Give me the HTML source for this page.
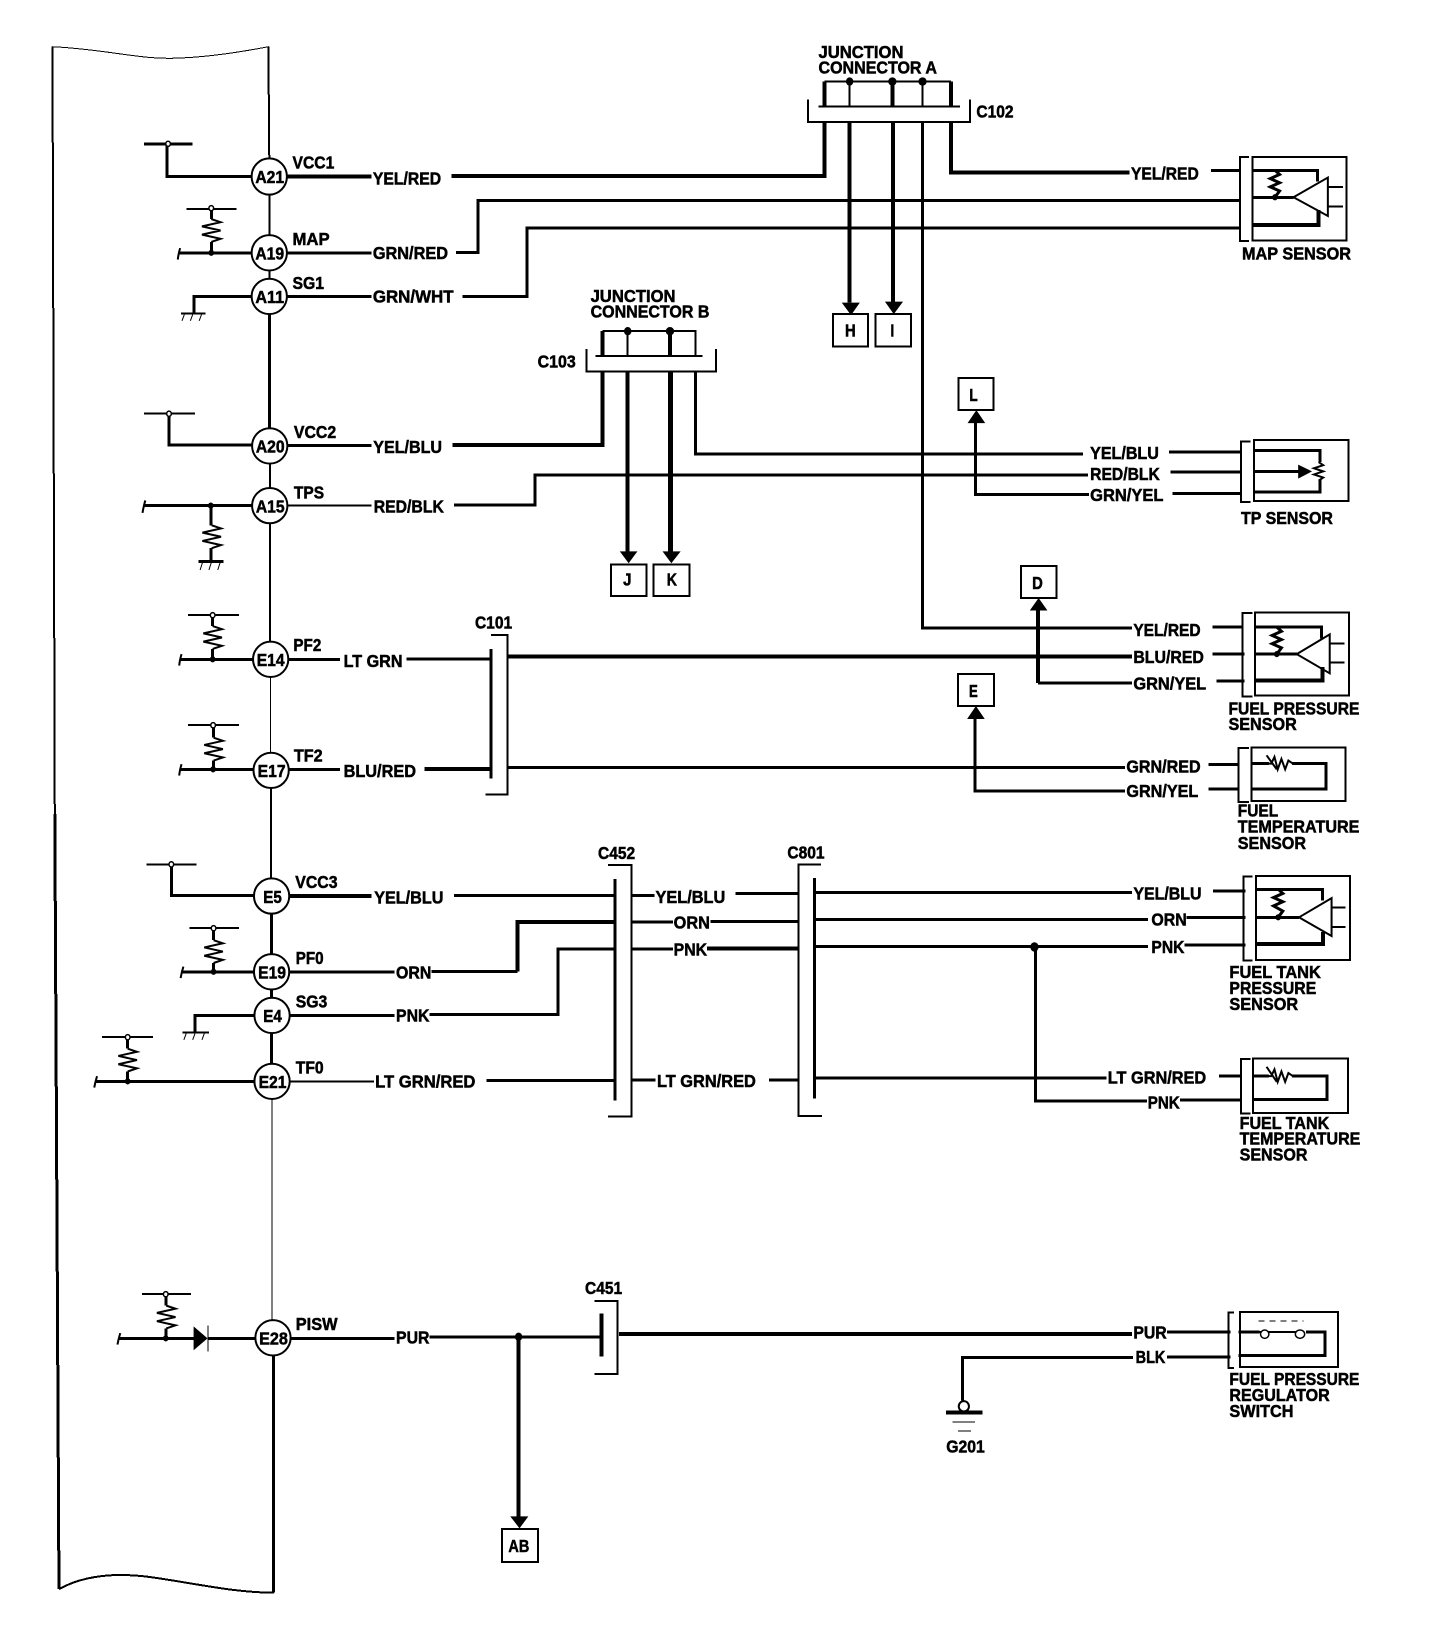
<!DOCTYPE html>
<html><head><meta charset="utf-8"><style>
html,body{margin:0;padding:0;background:#fff}
svg{display:block}
svg *{vector-effect:non-scaling-stroke}
.l{fill:none;stroke:#000;stroke-linejoin:miter;stroke-linecap:butt;shape-rendering:crispEdges}
.c{fill:none;stroke:#000}
.s1{stroke-width:1px}.s2{stroke-width:2px}.s3{stroke-width:3px}.s4{stroke-width:4px}.s5{stroke-width:5px}
text{font-family:"Liberation Sans",sans-serif;font-weight:bold;font-size:34px;fill:#000;stroke:#000;stroke-width:.5px}
</style></head><body>
<svg xmlns="http://www.w3.org/2000/svg" width="1456" height="1628" viewBox="0 0 3136 3136" preserveAspectRatio="none">
<rect width="3136" height="3136" fill="#fff"/>
<!-- module outline -->
<path class="l s1" d="M113,90 C230,95 300,115 380,112 C450,110 520,100 578,90"/>
<path class="l s2" d="M578,90 L580,305"/>
<path class="l s2" d="M113,90 L118,1568"/>
<path class="l s3" d="M118,1568 L127,3061"/>
<path class="l s2" d="M127,3061 C190,3030 270,3030 340,3040 C430,3052 510,3068 590,3068"/>
<!-- spine -->
<path class="l s2" d="M580,340V487"/><path class="l s2" d="M580,487V571"/><path class="l s3" d="M580,571V859"/>
<path class="l s2" d="M581,859V974"/><path class="l s2" d="M581,974V1270"/><path class="l s1" d="M583,1270V1484"/>
<path class="l s2" d="M584,1484V1726"/><path class="l s3" d="M585,1726V2083"/><path class="l s1" d="M586,2083V2577"/><path class="l s3" d="M589,2577V3068"/>
<!-- left side circuits -->
<path class="l s3" d="M542,340H360V277M310,277H415"/>
<path class="l s2" d="M402,403H509M310,797H420M405,1185H515M405,1397H515M315,1665H423M408,1788H515M220,1998H330M306,2493H411"/>
<path class="l s3" d="M455,403V422M455,466V487M385,487H542M458,1185V1206M458,1250V1270M388,1270H545M460,1397V1421M460,1465V1482M388,1482H545M460,1788V1811M460,1855V1872M390,1872H548M275,1998V2020M275,2064V2083M205,2083H548M357,2493V2515M357,2559V2578M255,2578H420M448,2578H550"/>
<path class="c s2" d="M455,422L475,428L435,436L475,444L435,452L475,460L455,466M456,1012L476,1018L436,1026L476,1034L436,1042L476,1050L456,1056M458,1206L478,1212L438,1220L478,1228L438,1236L478,1244L458,1250M460,1421L480,1427L440,1435L480,1443L440,1451L480,1459L460,1465M460,1811L480,1817L440,1825L480,1833L440,1841L480,1849L460,1855M275,2020L295,2026L255,2034L295,2042L255,2050L295,2058L275,2064M358,2515L378,2521L338,2529L378,2537L338,2545L378,2553L358,2559"/>
<path class="l s3" d="M542,571H418V603M428,1082H481M548,1956H420V1988M310,974H542"/>
<path class="l s2" d="M390,604H443M393,1989H450"/>
<path class="l s3" d="M454,974V1012M454,1056V1082"/>
<path class="l s3" d="M542,857H364V797M548,1725H369V1665"/>
<path class="c s1" d="M397,606L392,618M415,606L410,618M434,606L429,618M436,1084L431,1098M455,1084L450,1098M474,1084L469,1098M401,1991L396,2003M420,1991L415,2003M440,1991L435,2003"/>
<path class="c s2" d="M388,478Q384,490 383,500M313,964Q309,976 307,988M391,1260Q387,1272 386,1282M391,1472Q387,1484 386,1494M395,1862Q391,1874 389,1884M209,2073Q205,2085 203,2095M259,2568Q255,2580 253,2590"/>
<g fill="#fff" stroke="#000" stroke-width="1.5px">
<ellipse cx="362" cy="277" rx="5" ry="5"/><ellipse cx="455" cy="401" rx="5" ry="5"/><ellipse cx="364" cy="797" rx="5" ry="5"/><ellipse cx="458" cy="1185" rx="5" ry="5"/><ellipse cx="459" cy="1397" rx="5" ry="5"/><ellipse cx="369" cy="1665" rx="5" ry="5"/><ellipse cx="460" cy="1788" rx="5" ry="5"/><ellipse cx="275" cy="1998" rx="5" ry="5"/><ellipse cx="357" cy="2493" rx="5" ry="5"/>
</g>
<g fill="#000">
<ellipse cx="455" cy="487" rx="6" ry="6"/><ellipse cx="454" cy="974" rx="6" ry="6"/><ellipse cx="458" cy="1270" rx="6" ry="6"/><ellipse cx="459" cy="1482" rx="6" ry="6"/><ellipse cx="460" cy="1872" rx="6" ry="6"/><ellipse cx="275" cy="2083" rx="6" ry="6"/><ellipse cx="357" cy="2578" rx="6" ry="6"/>
<polygon points="417,2555 417,2601 447,2578"/>
<ellipse cx="1117" cy="2575" rx="8" ry="8"/><ellipse cx="2228" cy="1824" rx="9" ry="9"/>
<ellipse cx="1352" cy="638" rx="8" ry="8"/><ellipse cx="1443" cy="638" rx="9" ry="8"/><ellipse cx="1830" cy="157" rx="8" ry="8"/><ellipse cx="1922" cy="157" rx="9" ry="8"/><ellipse cx="1987" cy="157" rx="9" ry="8"/>
<polygon points="1335,1062 1373,1062 1354,1085"/><polygon points="1427,1062 1466,1062 1446,1085"/>
<polygon points="1813,583 1852,583 1833,607"/><polygon points="1906,581 1945,581 1925,605"/>
<polygon points="2084,815 2122,815 2103,790"/><polygon points="2218,1176 2256,1176 2237,1152"/><polygon points="2083,1385 2121,1385 2102,1360"/>
<polygon points="1099,2921 1138,2921 1119,2944"/>
<polygon points="2796,895 2796,922 2826,908"/>
</g>
<path class="l s1" d="M448,2553V2603"/>
<!-- wires -->
<path class="l s4" d="M618,340H800M972,339H1776V236"/>
<path class="l s3" d="M618,487H800M982,486H1030V386H2673"/>
<path class="l s3" d="M618,571H800"/><path class="l s3" d="M996,571H1135V439H2673"/>
<path class="l s3" d="M620,858H800"/><path class="l s4" d="M975,857H1298V715"/>
<path class="l s2" d="M620,974H800"/><path class="l s3" d="M978,973H1152V915H2343"/>
<path class="l s3" d="M1498,718V875H2333"/>
<path class="l s3" d="M620,1270H732M875,1269H1058"/><path class="l s4" d="M1095,1265H2438"/>
<path class="l s3" d="M620,1482H732"/><path class="l s4" d="M914,1481H1058"/><path class="l s3" d="M1095,1478H2423"/>
<path class="l s4" d="M620,1726H800"/><path class="l s3" d="M978,1725H1325"/>
<path class="l s3" d="M620,1872H850M929,1871H1115"/><path class="l s4" d="M1115,1871V1776H1325"/>
<path class="l s3" d="M620,1956H850"/><path class="l s3" d="M925,1954H1202V1828H1325"/>
<path class="l s2" d="M620,2083H805"/><path class="l s3" d="M1048,2081H1325"/>
<path class="l s3" d="M625,2578H850M925,2575H1296"/>
<path class="l s4" d="M1117,2575V2925"/>
<path class="l s4" d="M1333,2570H2438"/>
<path class="l s3" d="M2513,2566H2650"/>
<path class="l s3" d="M1360,1725H1410M1360,1776H1450M1360,1828H1450M1360,2080H1412M1656,2080H1718"/>
<path class="l s3" d="M1530,1775H1718"/><path class="l s4" d="M1523,1827H1718"/><path class="l s3" d="M1584,1721H1718"/>
<path class="l s3" d="M1754,1719H2438M1754,1771H2473"/><path class="l s3" d="M1754,1823H2473M2551,1820H2683M2556,1767H2683M2613,1716H2683"/>
<path class="l s3" d="M2230,1824V2121H2470"/><path class="l s3" d="M2541,2119H2673M2626,2073H2673"/><path class="l s3" d="M1756,2077H2383"/>
<path class="l s3" d="M1987,235V1210H2438"/><path class="l s3" d="M2611,1208H2678"/>
<path class="l s4" d="M2048,235V332H2433"/><path class="l s3" d="M2608,328H2673"/>
<path class="l s3" d="M2518,871H2673M2521,909H2673M2525,951H2673"/>
<path class="l s3" d="M2101,812V953H2346"/>
<path class="l s4" d="M2236,1176V1316"/><path class="l s3" d="M2236,1316H2438"/>
<path class="l s3" d="M2611,1260H2680M2620,1312H2680"/>
<path class="l s3" d="M2100,1385V1524H2423M2603,1473H2668M2603,1520H2668"/>
<path class="l s3" d="M2513,2614H2650M2440,2615H2073V2698"/>
<!-- connectors -->
<path class="l s3" d="M1058,1250V1500"/><path class="l s2" d="M1058,1223H1093V1530H1046"/>
<path class="l s3" d="M1325,1693V2120"/><path class="l s2" d="M1310,1666H1360V2151H1310"/>
<path class="l s3" d="M1754,1691V2116"/><path class="l s2" d="M1768,1665H1720V2150H1770"/>
<path class="l s4" d="M1296,2530V2613"/><path class="l s2" d="M1280,2506H1330V2647H1280"/>
<path class="l s2" d="M1263,672V716H1542V672M1283,686H1513"/>
<path class="l s4" d="M1298,686V638"/><path class="l s2" d="M1298,638H1498V686"/>
<path class="l s2" d="M1352,638V686"/><path class="l s4" d="M1443,638V686"/>
<path class="l s4" d="M1352,715V1065"/><path class="l s5" d="M1444,715V1065"/>
<path class="l s2" d="M1740,192V235H2089V192M1763,205H2068"/>
<path class="l s4" d="M1776,205V157M2048,205V157"/><path class="l s2" d="M1776,157H2048M1830,157V205M1987,157V205"/><path class="l s4" d="M1922,157V205"/>
<path class="l s4" d="M1830,235V583M1923,235V583"/>
<!-- boxes -->
<g class="l s2">
<rect x="1316" y="1087" width="76" height="61"/><rect x="1408" y="1087" width="77" height="61"/>
<rect x="1794" y="605" width="76" height="62"/><rect x="1886" y="605" width="76" height="62"/>
<rect x="2064" y="728" width="76" height="62"/><rect x="2199" y="1090" width="76" height="62"/><rect x="2063" y="1298" width="78" height="62"/>
<rect x="1081" y="2945" width="78" height="64"/>
</g>
<!-- MAP sensor -->
<path class="l s2" d="M2690,302H2671V464H2690M2698,302H2900V463H2698Z"/>
<path class="l s3" d="M2696,328H2838V350"/><path class="l s4" d="M2696,433H2840V405"/><path class="l s3" d="M2696,380H2786"/>
<path class="c s2" d="M2786,380L2860,342V416Z"/><path class="l s2" d="M2860,360H2893M2860,398H2893"/>
<path class="c s3" d="M2746,328L2756,336L2736,344L2756,352L2736,360L2756,368L2746,380"/>
<ellipse cx="2746" cy="380" rx="6" ry="6"/>
<!-- TP sensor -->
<path class="l s2" d="M2693,850H2673V967H2693M2701,848H2904V965H2701Z"/>
<path class="l s3" d="M2699,868H2843V890M2699,908H2798"/><path class="l s3" d="M2699,948H2843V925"/>
<path class="c s2" d="M2840,890L2850,896L2830,902L2850,908L2830,914L2850,920L2840,926"/>
<!-- fuel pressure sensor -->
<path class="l s2" d="M2698,1181H2676V1342H2698M2703,1180H2906V1340H2703Z"/>
<path class="l s3" d="M2703,1208H2846V1230"/><path class="l s4" d="M2703,1311H2848V1285"/><path class="l s3" d="M2703,1260H2793"/>
<path class="c s2" d="M2793,1260L2864,1222V1297Z"/><path class="l s2" d="M2864,1240H2896M2864,1276H2896"/>
<path class="c s3" d="M2750,1208L2760,1216L2740,1224L2760,1232L2740,1240L2760,1248L2750,1260"/><ellipse cx="2750" cy="1260" rx="6" ry="6"/>
<!-- fuel temp sensor -->
<path class="l s2" d="M2690,1441H2668V1545H2690M2695,1440H2898V1543H2695Z"/>
<path class="l s3" d="M2695,1471H2856V1520H2695"/>
<path fill="#fff" stroke="none" d="M2733,1455H2783V1482H2733Z"/>
<path class="c s2" d="M2725,1471H2738L2745,1458L2752,1482L2760,1462L2768,1482L2775,1465L2785,1471M2728,1455L2750,1482"/>
<!-- fuel tank pressure sensor -->
<path class="l s2" d="M2698,1688H2678V1850H2698M2705,1687H2908V1849H2705Z"/>
<path class="l s3" d="M2705,1713H2848V1735"/><path class="l s4" d="M2705,1818H2850V1795"/><path class="l s3" d="M2705,1767H2798"/>
<path class="c s2" d="M2798,1767L2868,1730V1803Z"/><path class="l s2" d="M2868,1748H2898M2868,1786H2898"/>
<path class="c s3" d="M2753,1713L2763,1721L2743,1729L2763,1737L2743,1745L2763,1755L2753,1767"/><ellipse cx="2753" cy="1767" rx="6" ry="6"/>
<!-- fuel tank temp sensor -->
<path class="l s2" d="M2693,2040H2673V2145H2693M2699,2039H2903V2144H2699Z"/>
<path class="l s3" d="M2699,2073H2858V2118H2699"/>
<path fill="#fff" stroke="none" d="M2733,2058H2783V2084H2733Z"/>
<path class="c s2" d="M2725,2073H2738L2745,2060L2752,2084L2760,2064L2768,2084L2775,2067L2785,2073M2728,2055L2750,2084"/>
<!-- regulator switch -->
<path class="l s2" d="M2658,2528H2646V2635H2658M2671,2527H2882V2633H2671Z"/>
<path class="l s3" d="M2668,2566H2713M2813,2566H2854V2611H2668"/>
<path class="l s1" d="M2711,2545H2808" stroke-dasharray="6 5"/>
<path class="l s2" d="M2713,2566H2810"/>
<ellipse cx="2724" cy="2570" rx="9" ry="8" fill="#fff" stroke="#000" stroke-width="1.5px"/><ellipse cx="2800" cy="2570" rx="10" ry="8" fill="#fff" stroke="#000" stroke-width="1.5px"/>
<!-- ground -->
<path class="l s4" d="M2038,2721H2116"/><path class="l s1" d="M2051,2739H2100M2063,2757H2091"/>
<ellipse cx="2076" cy="2709" rx="11" ry="10" fill="#fff" stroke="#000" stroke-width="2px"/>
<!-- pin circles -->
<g fill="#fff" stroke="#000" stroke-width="2px">
<ellipse cx="580" cy="340" rx="38" ry="35"/><ellipse cx="580" cy="487" rx="38" ry="34"/><ellipse cx="580" cy="571" rx="38" ry="34"/>
<ellipse cx="581" cy="859" rx="38" ry="34"/><ellipse cx="581" cy="974" rx="38" ry="34"/><ellipse cx="583" cy="1270" rx="38" ry="34"/>
<ellipse cx="584" cy="1484" rx="38" ry="34"/><ellipse cx="585" cy="1726" rx="38" ry="34"/><ellipse cx="585" cy="1872" rx="38" ry="34"/>
<ellipse cx="586" cy="1956" rx="38" ry="34"/><ellipse cx="586" cy="2083" rx="38" ry="34"/><ellipse cx="588" cy="2577" rx="38" ry="34"/>
</g>
<!-- text -->
<g lengthAdjust="spacingAndGlyphs">
<text x="550" y="353" textLength="62" lengthAdjust="spacingAndGlyphs">A21</text>
<text x="550" y="500" textLength="62" lengthAdjust="spacingAndGlyphs">A19</text>
<text x="550" y="584" textLength="62" lengthAdjust="spacingAndGlyphs">A11</text>
<text x="551" y="872" textLength="62" lengthAdjust="spacingAndGlyphs">A20</text>
<text x="551" y="987" textLength="62" lengthAdjust="spacingAndGlyphs">A15</text>
<text x="553" y="1283" textLength="60" lengthAdjust="spacingAndGlyphs">E14</text>
<text x="555" y="1497" textLength="60" lengthAdjust="spacingAndGlyphs">E17</text>
<text x="567" y="1739" textLength="40" lengthAdjust="spacingAndGlyphs">E5</text>
<text x="556" y="1885" textLength="60" lengthAdjust="spacingAndGlyphs">E19</text>
<text x="567" y="1969" textLength="40" lengthAdjust="spacingAndGlyphs">E4</text>
<text x="557" y="2096" textLength="60" lengthAdjust="spacingAndGlyphs">E21</text>
<text x="558" y="2590" textLength="62" lengthAdjust="spacingAndGlyphs">E28</text>
<text x="630" y="325" textLength="90" lengthAdjust="spacingAndGlyphs">VCC1</text>
<text x="630" y="472" textLength="80" lengthAdjust="spacingAndGlyphs">MAP</text>
<text x="630" y="557" textLength="68" lengthAdjust="spacingAndGlyphs">SG1</text>
<text x="633" y="844" textLength="91" lengthAdjust="spacingAndGlyphs">VCC2</text>
<text x="633" y="960" textLength="65" lengthAdjust="spacingAndGlyphs">TPS</text>
<text x="632" y="1254" textLength="60" lengthAdjust="spacingAndGlyphs">PF2</text>
<text x="633" y="1467" textLength="62" lengthAdjust="spacingAndGlyphs">TF2</text>
<text x="636" y="1711" textLength="91" lengthAdjust="spacingAndGlyphs">VCC3</text>
<text x="637" y="1857" textLength="60" lengthAdjust="spacingAndGlyphs">PF0</text>
<text x="637" y="1941" textLength="68" lengthAdjust="spacingAndGlyphs">SG3</text>
<text x="637" y="2068" textLength="60" lengthAdjust="spacingAndGlyphs">TF0</text>
<text x="637" y="2562" textLength="90" lengthAdjust="spacingAndGlyphs">PISW</text>
<text x="803" y="355" textLength="147" lengthAdjust="spacingAndGlyphs">YEL/RED</text>
<text x="803" y="499" textLength="162" lengthAdjust="spacingAndGlyphs">GRN/RED</text>
<text x="803" y="583" textLength="174" lengthAdjust="spacingAndGlyphs">GRN/WHT</text>
<text x="804" y="873" textLength="148" lengthAdjust="spacingAndGlyphs">YEL/BLU</text>
<text x="805" y="987" textLength="151" lengthAdjust="spacingAndGlyphs">RED/BLK</text>
<text x="740" y="1285" textLength="127" lengthAdjust="spacingAndGlyphs">LT GRN</text>
<text x="740" y="1497" textLength="156" lengthAdjust="spacingAndGlyphs">BLU/RED</text>
<text x="806" y="1740" textLength="149" lengthAdjust="spacingAndGlyphs">YEL/BLU</text>
<text x="853" y="1885" textLength="76" lengthAdjust="spacingAndGlyphs">ORN</text>
<text x="853" y="1968" textLength="72" lengthAdjust="spacingAndGlyphs">PNK</text>
<text x="808" y="2095" textLength="216" lengthAdjust="spacingAndGlyphs">LT GRN/RED</text>
<text x="853" y="2588" textLength="72" lengthAdjust="spacingAndGlyphs">PUR</text>
<text x="1412" y="1739" textLength="150" lengthAdjust="spacingAndGlyphs">YEL/BLU</text>
<text x="1451" y="1789" textLength="78" lengthAdjust="spacingAndGlyphs">ORN</text>
<text x="1451" y="1841" textLength="72" lengthAdjust="spacingAndGlyphs">PNK</text>
<text x="1415" y="2094" textLength="213" lengthAdjust="spacingAndGlyphs">LT GRN/RED</text>
<text x="1288" y="1655" textLength="80" lengthAdjust="spacingAndGlyphs">C452</text>
<text x="1260" y="2493" textLength="80" lengthAdjust="spacingAndGlyphs">C451</text>
<text x="1023" y="1211" textLength="80" lengthAdjust="spacingAndGlyphs">C101</text>
<text x="1158" y="708" textLength="82" lengthAdjust="spacingAndGlyphs">C103</text>
<text x="1696" y="1654" textLength="80" lengthAdjust="spacingAndGlyphs">C801</text>
<text x="2103" y="226" textLength="80" lengthAdjust="spacingAndGlyphs">C102</text>
<text x="1272" y="582" textLength="183" lengthAdjust="spacingAndGlyphs">JUNCTION</text>
<text x="1272" y="612" textLength="256" lengthAdjust="spacingAndGlyphs">CONNECTOR B</text>
<text x="1763" y="112" textLength="183" lengthAdjust="spacingAndGlyphs">JUNCTION</text>
<text x="1763" y="142" textLength="255" lengthAdjust="spacingAndGlyphs">CONNECTOR A</text>
<text x="1342" y="1128" textLength="18" lengthAdjust="spacingAndGlyphs">J</text>
<text x="1436" y="1128" textLength="22" lengthAdjust="spacingAndGlyphs">K</text>
<text x="1820" y="648" textLength="23" lengthAdjust="spacingAndGlyphs">H</text>
<text x="1918" y="648" textLength="8" lengthAdjust="spacingAndGlyphs">I</text>
<text x="2088" y="772" textLength="18" lengthAdjust="spacingAndGlyphs">L</text>
<text x="2223" y="1135" textLength="23" lengthAdjust="spacingAndGlyphs">D</text>
<text x="2087" y="1343" textLength="19" lengthAdjust="spacingAndGlyphs">E</text>
<text x="1095" y="2990" textLength="45" lengthAdjust="spacingAndGlyphs">AB</text>
<text x="2436" y="346" textLength="146" lengthAdjust="spacingAndGlyphs">YEL/RED</text>
<text x="2675" y="500" textLength="235" lengthAdjust="spacingAndGlyphs">MAP SENSOR</text>
<text x="2348" y="884" textLength="148" lengthAdjust="spacingAndGlyphs">YEL/BLU</text>
<text x="2348" y="925" textLength="150" lengthAdjust="spacingAndGlyphs">RED/BLK</text>
<text x="2348" y="965" textLength="158" lengthAdjust="spacingAndGlyphs">GRN/YEL</text>
<text x="2673" y="1009" textLength="198" lengthAdjust="spacingAndGlyphs">TP SENSOR</text>
<text x="2441" y="1225" textLength="145" lengthAdjust="spacingAndGlyphs">YEL/RED</text>
<text x="2441" y="1277" textLength="152" lengthAdjust="spacingAndGlyphs">BLU/RED</text>
<text x="2441" y="1328" textLength="157" lengthAdjust="spacingAndGlyphs">GRN/YEL</text>
<text x="2646" y="1376" textLength="282" lengthAdjust="spacingAndGlyphs">FUEL PRESSURE</text>
<text x="2646" y="1406" textLength="147" lengthAdjust="spacingAndGlyphs">SENSOR</text>
<text x="2426" y="1488" textLength="160" lengthAdjust="spacingAndGlyphs">GRN/RED</text>
<text x="2426" y="1535" textLength="155" lengthAdjust="spacingAndGlyphs">GRN/YEL</text>
<text x="2666" y="1573" textLength="87" lengthAdjust="spacingAndGlyphs">FUEL</text>
<text x="2666" y="1604" textLength="262" lengthAdjust="spacingAndGlyphs">TEMPERATURE</text>
<text x="2666" y="1635" textLength="147" lengthAdjust="spacingAndGlyphs">SENSOR</text>
<text x="2441" y="1733" textLength="147" lengthAdjust="spacingAndGlyphs">YEL/BLU</text>
<text x="2480" y="1783" textLength="76" lengthAdjust="spacingAndGlyphs">ORN</text>
<text x="2480" y="1836" textLength="71" lengthAdjust="spacingAndGlyphs">PNK</text>
<text x="2648" y="1884" textLength="197" lengthAdjust="spacingAndGlyphs">FUEL TANK</text>
<text x="2648" y="1915" textLength="187" lengthAdjust="spacingAndGlyphs">PRESSURE</text>
<text x="2648" y="1946" textLength="148" lengthAdjust="spacingAndGlyphs">SENSOR</text>
<text x="2386" y="2087" textLength="212" lengthAdjust="spacingAndGlyphs">LT GRN/RED</text>
<text x="2472" y="2135" textLength="69" lengthAdjust="spacingAndGlyphs">PNK</text>
<text x="2670" y="2175" textLength="193" lengthAdjust="spacingAndGlyphs">FUEL TANK</text>
<text x="2670" y="2205" textLength="260" lengthAdjust="spacingAndGlyphs">TEMPERATURE</text>
<text x="2670" y="2235" textLength="146" lengthAdjust="spacingAndGlyphs">SENSOR</text>
<text x="2441" y="2578" textLength="72" lengthAdjust="spacingAndGlyphs">PUR</text>
<text x="2446" y="2626" textLength="64" lengthAdjust="spacingAndGlyphs">BLK</text>
<text x="2648" y="2668" textLength="280" lengthAdjust="spacingAndGlyphs">FUEL PRESSURE</text>
<text x="2648" y="2699" textLength="216" lengthAdjust="spacingAndGlyphs">REGULATOR</text>
<text x="2648" y="2730" textLength="138" lengthAdjust="spacingAndGlyphs">SWITCH</text>
<text x="2038" y="2798" textLength="83" lengthAdjust="spacingAndGlyphs">G201</text>
</g>
</svg>
</body></html>
